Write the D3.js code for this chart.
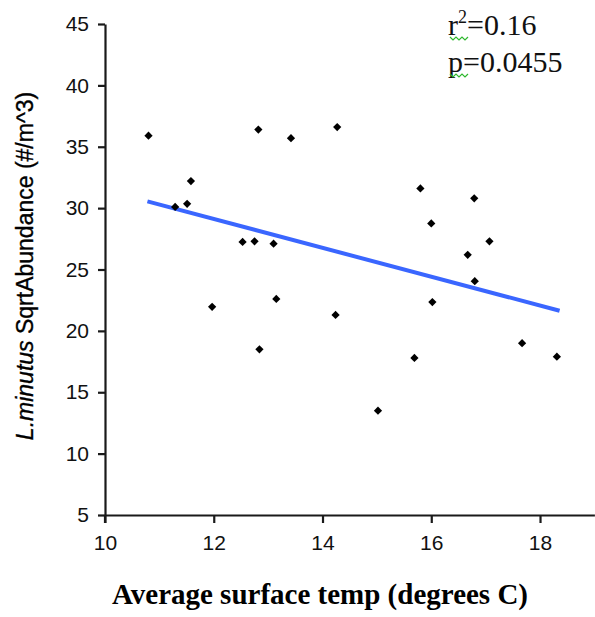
<!DOCTYPE html>
<html>
<head>
<meta charset="utf-8">
<script src="https://cdn.jsdelivr.net/npm/d3@7"></script>
<style>
  html, body { margin: 0; padding: 0; background: #fff; }
  svg { display: block; }
</style>
</head>
<body>
<div id="chart"></div>
<script>
// ---- Data ----
const tempX = [10.80, 11.29, 11.51, 11.58, 11.97, 12.53, 12.75, 12.82, 12.84, 13.10,
               13.15, 13.42, 14.24, 14.27, 15.02, 15.69, 15.80, 16.00, 16.02, 16.67,
               16.79, 16.80, 17.07, 17.67, 18.31];
const abundY = [35.9, 30.1, 30.35, 32.2, 21.96, 27.25, 27.3, 36.4, 18.5, 27.1,
                22.6, 35.7, 21.3, 36.6, 13.5, 17.8, 31.6, 28.75, 22.35, 26.2,
                30.8, 24.05, 27.3, 19.0, 17.9];
const trendX = [10.78, 18.36];
const trendY = [30.55, 21.64];
const xTicks = [10, 12, 14, 16, 18];
const yTicks = [5, 10, 15, 20, 25, 30, 35, 40, 45];
const statLines = ["r", "p"];
const statValues = ["=0.16", "=0.0455"];

// ---- Layout ----
const W = 595, H = 617;
const svg = d3.select("#chart").append("svg").attr("width", W).attr("height", H);

const x = d3.scaleLinear().domain([10, 19]).range([105, 594.4]);
const y = d3.scaleLinear().domain([5, 45]).range([515, 24]);

// Axes
const xAxis = d3.axisBottom(x).tickValues(xTicks).tickSize(8).tickSizeOuter(0).tickPadding(12);
const yAxis = d3.axisLeft(y).tickValues(yTicks).tickSize(7).tickSizeOuter(0).tickPadding(9);

const gx = svg.append("g").attr("transform", `translate(0,${y(5)})`).call(xAxis);
const gy = svg.append("g").attr("transform", `translate(${x(10)},0)`).call(yAxis);

[gx, gy].forEach(g => {
  g.select(".domain").attr("stroke", "#1a1a1a").attr("stroke-width", 2.2);
  g.selectAll(".tick line").attr("stroke", "#1a1a1a").attr("stroke-width", 2.2);
  g.selectAll(".tick text")
    .attr("fill", "#111")
    .style("font-family", "Arial, 'Liberation Sans', sans-serif")
    .style("font-size", "21px");
});
// extend y axis below the x axis slightly (as in reference)
svg.append("line")
  .attr("x1", x(10)).attr("x2", x(10))
  .attr("y1", y(5)).attr("y2", y(5) + 8)
  .attr("stroke", "#1a1a1a").attr("stroke-width", 2.2);
gx.selectAll(".tick text").attr("dy", "0.71em");

// Trend line
svg.append("line")
  .attr("x1", x(trendX[0])).attr("y1", y(trendY[0]))
  .attr("x2", x(trendX[1])).attr("y2", y(trendY[1]))
  .attr("stroke", "#3a66ff").attr("stroke-width", 4);

// Points
const sym = d3.symbol().type(d3.symbolSquare).size(34);
svg.append("g").selectAll("path")
  .data(tempX.map((t, i) => [t, abundY[i]]))
  .join("path")
  .attr("d", sym)
  .attr("transform", d => `translate(${x(d[0])},${y(d[1])}) rotate(45)`)
  .attr("fill", "#000");

// Stats annotation
const ann = svg.append("g")
  .style("font-family", "'Times New Roman', 'Liberation Serif', serif")
  .style("font-size", "30px")
  .attr("fill", "#111");
const t1 = ann.append("text").attr("x", 448).attr("y", 35);
t1.append("tspan").text(statLines[0]);
t1.append("tspan").text("2").attr("dy", -12).style("font-size", "18px");
t1.append("tspan").text(statValues[0]).attr("dy", 12);
const t2 = ann.append("text").attr("x", 448).attr("y", 72);
t2.append("tspan").text(statLines[1]);
t2.append("tspan").text(statValues[1]);

// green spell-check squiggles
const squig = (x0, y0) => {
  const pts = [];
  for (let i = 0; i <= 6; i++) pts.push([x0 + i * 3, y0 + (i % 2 ? 3 : 0)]);
  return d3.line()(pts);
};
[[450, 37], [450, 74]].forEach(([a, b]) =>
  svg.append("path").attr("d", squig(a, b)).attr("fill", "none")
    .attr("stroke", "#2db82d").attr("stroke-width", 1.2));

// Y axis title
const yl = svg.append("text")
  .attr("transform", `translate(33,266) rotate(-90)`)
  .attr("text-anchor", "middle")
  .attr("fill", "#000")
  .attr("stroke", "#000").attr("stroke-width", 0.35)
  .style("font-family", "Arial, 'Liberation Sans', sans-serif")
  .style("font-size", "23px");
yl.append("tspan").text("L.minutus").style("font-style", "italic");
yl.append("tspan").text(" SqrtAbundance (#/m^3)");

// X axis title
svg.append("text")
  .attr("x", 320).attr("y", 604)
  .attr("text-anchor", "middle")
  .attr("fill", "#000")
  .style("font-family", "'Times New Roman', 'Liberation Serif', serif")
  .style("font-weight", "bold")
  .style("font-size", "29px")
  .text("Average surface temp (degrees C)");
</script>
</body>
</html>
